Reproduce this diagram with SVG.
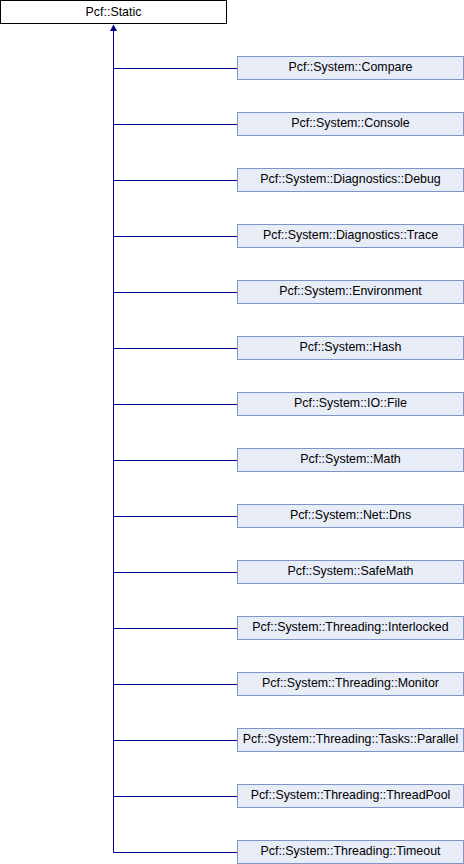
<svg xmlns="http://www.w3.org/2000/svg" width="464" height="864" viewBox="0 0 464 864">
<style>
.base{fill:#ffffff;stroke:#000000;stroke-width:1}
.node{fill:#e8ecf6;stroke:#8094c8;stroke-width:1}
.lbl{font-family:"Liberation Sans",Arial,sans-serif;font-size:12.4px;fill:#000000;text-anchor:middle}
.edge{stroke:#000088;stroke-width:1;fill:none}
</style>
<rect width="464" height="864" fill="#ffffff"/>
<g id="connectors">
<path class="edge" d="M113.5,852.5 V26"/>
<path d="M113.5,24.5 L110,31 L117,31 Z" fill="#000088"/>
<path class="edge" d="M113.5,68.5 H237.5 M113.5,124.5 H237.5 M113.5,180.5 H237.5 M113.5,236.5 H237.5 M113.5,292.5 H237.5 M113.5,348.5 H237.5 M113.5,404.5 H237.5 M113.5,460.5 H237.5 M113.5,516.5 H237.5 M113.5,572.5 H237.5 M113.5,628.5 H237.5 M113.5,684.5 H237.5 M113.5,740.5 H237.5 M113.5,796.5 H237.5 M113.5,852.5 H237.5"/>
</g>
<g id="static"><rect class="base" x="0.5" y="0.5" width="226" height="23"/><text class="lbl" x="113.5" y="15.5">Pcf::Static</text></g>
<g id="compare"><rect class="node" x="237.5" y="56.5" width="226" height="23"/><text class="lbl" x="350.5" y="71.2">Pcf::System::Compare</text></g>
<g id="console"><rect class="node" x="237.5" y="112.5" width="226" height="23"/><text class="lbl" x="350.5" y="127.2">Pcf::System::Console</text></g>
<g id="debug"><rect class="node" x="237.5" y="168.5" width="226" height="23"/><text class="lbl" x="350.5" y="183.2">Pcf::System::Diagnostics::Debug</text></g>
<g id="trace"><rect class="node" x="237.5" y="224.5" width="226" height="23"/><text class="lbl" x="350.5" y="239.2">Pcf::System::Diagnostics::Trace</text></g>
<g id="environment"><rect class="node" x="237.5" y="280.5" width="226" height="23"/><text class="lbl" x="350.5" y="295.2">Pcf::System::Environment</text></g>
<g id="hash"><rect class="node" x="237.5" y="336.5" width="226" height="23"/><text class="lbl" x="350.5" y="351.2">Pcf::System::Hash</text></g>
<g id="iofile"><rect class="node" x="237.5" y="392.5" width="226" height="23"/><text class="lbl" x="350.5" y="407.2">Pcf::System::IO::File</text></g>
<g id="math"><rect class="node" x="237.5" y="448.5" width="226" height="23"/><text class="lbl" x="350.5" y="463.2">Pcf::System::Math</text></g>
<g id="dns"><rect class="node" x="237.5" y="504.5" width="226" height="23"/><text class="lbl" x="350.5" y="519.2">Pcf::System::Net::Dns</text></g>
<g id="safemath"><rect class="node" x="237.5" y="560.5" width="226" height="23"/><text class="lbl" x="350.5" y="575.2">Pcf::System::SafeMath</text></g>
<g id="interlocked"><rect class="node" x="237.5" y="616.5" width="226" height="23"/><text class="lbl" x="350.5" y="631.2">Pcf::System::Threading::Interlocked</text></g>
<g id="monitor"><rect class="node" x="237.5" y="672.5" width="226" height="23"/><text class="lbl" x="350.5" y="687.2">Pcf::System::Threading::Monitor</text></g>
<g id="parallel"><rect class="node" x="237.5" y="728.5" width="226" height="23"/><text class="lbl" x="350.5" y="743.2">Pcf::System::Threading::Tasks::Parallel</text></g>
<g id="threadpool"><rect class="node" x="237.5" y="784.5" width="226" height="23"/><text class="lbl" x="350.5" y="799.2">Pcf::System::Threading::ThreadPool</text></g>
<g id="timeout"><rect class="node" x="237.5" y="840.5" width="226" height="23"/><text class="lbl" x="350.5" y="855.2">Pcf::System::Threading::Timeout</text></g>
</svg>
